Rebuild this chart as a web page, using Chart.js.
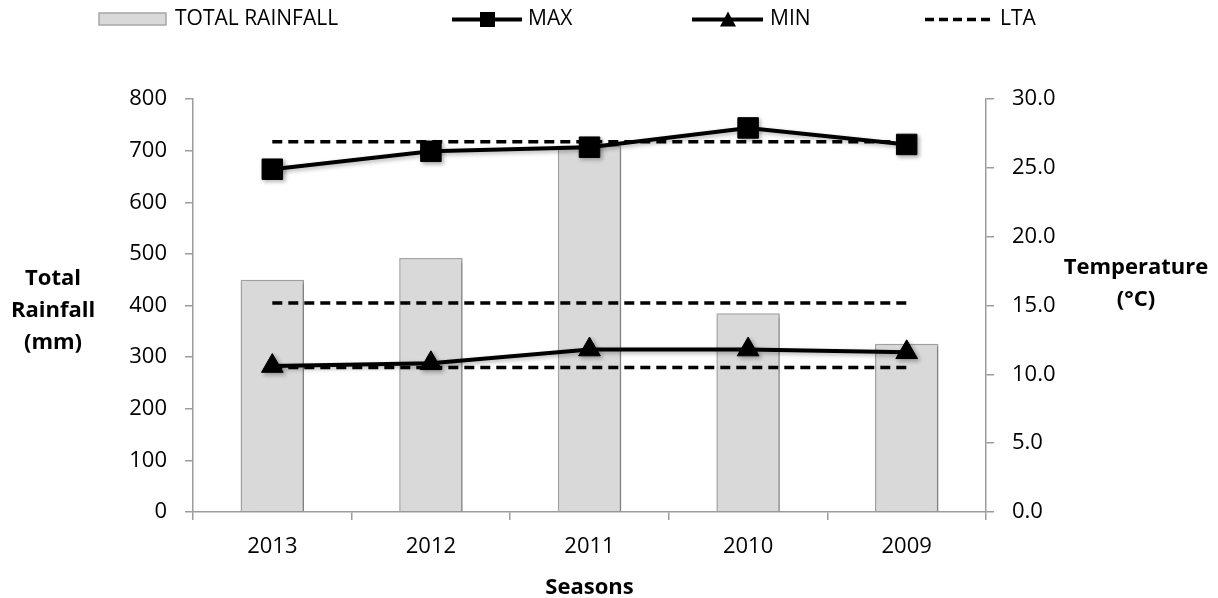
<!DOCTYPE html>
<html lang="en">
<head>
    <meta charset="UTF-8">
    <title>Rainfall and temperature by season</title>
    <script src="https://cdn.jsdelivr.net/npm/chart.js"></script>
    <style>
        body { margin: 0; background: #fff; }
    </style>
</head>
<body>
    <canvas id="rainChart" width="1218" height="598"></canvas>
    <script>
        // values
        const seasons = ['2013', '2012', '2011', '2010', '2009']
        const totalRainfall = [450, 492, 710, 385, 326]
        const maxTemp = [24.9, 26.2, 26.5, 27.9, 26.7]
        const minTemp = [10.6, 10.8, 11.8, 11.8, 11.6]
        const ltaMaxTemp = [26.9, 26.9, 26.9, 26.9, 26.9]
        const ltaRainfall = [405, 405, 405, 405, 405]
        const ltaMinTemp = [10.5, 10.5, 10.5, 10.5, 10.5]
        const rainTicks = { min: 0, max: 800, step: 100 }
        const tempTicks = { min: 0, max: 30, step: 5 }

        const FONT = "'Open Sans', sans-serif"
        const axisGrey = '#9c9c9c'

        // excel-ish legend and axis titles, drawn straight on the canvas
        const decor = {
            id: 'decor',
            beforeDatasetDraw(chart, args) {
                const ctx = chart.ctx
                ctx.save()
                if (args.meta.type === 'bar' || args.meta.controller.getDataset().shadow) {
                    ctx.shadowColor = 'rgba(0,0,0,0.3)'
                    ctx.shadowBlur = 4
                    ctx.shadowOffsetX = 2
                    ctx.shadowOffsetY = 2
                }
            },
            afterDatasetDraw(chart) {
                chart.ctx.restore()
            },
            afterDraw(chart) {
                const ctx = chart.ctx
                ctx.save()
                ctx.fillStyle = '#000'
                ctx.strokeStyle = '#000'

                // legend
                const ly = 19.5
                ctx.font = `21px ${FONT}`
                ctx.textBaseline = 'middle'
                ctx.textAlign = 'left'

                ctx.fillStyle = '#d9d9d9'
                ctx.fillRect(99, 13, 67, 12)
                ctx.strokeStyle = '#a6a6a6'
                ctx.lineWidth = 1.5
                ctx.strokeRect(99, 13, 67, 12)
                ctx.fillStyle = '#000'
                ctx.fillText('TOTAL RAINFALL', 175, ly)

                ctx.strokeStyle = '#000'
                ctx.lineWidth = 4
                ctx.beginPath()
                ctx.moveTo(452, ly); ctx.lineTo(522, ly)
                ctx.stroke()
                ctx.fillRect(480, ly - 7.5, 15, 15)
                ctx.fillText('MAX', 528, ly)

                ctx.beginPath()
                ctx.moveTo(692, ly); ctx.lineTo(763, ly)
                ctx.stroke()
                ctx.beginPath()
                ctx.moveTo(728, ly - 8); ctx.lineTo(736, ly + 7); ctx.lineTo(720, ly + 7)
                ctx.closePath()
                ctx.fill()
                ctx.fillText('MIN', 770, ly)

                ctx.lineWidth = 3.5
                ctx.setLineDash([9, 5])
                ctx.beginPath()
                ctx.moveTo(925, ly); ctx.lineTo(994, ly)
                ctx.stroke()
                ctx.setLineDash([])
                ctx.fillText('LTA', 1000, ly)

                // axis titles
                ctx.font = `bold 22px ${FONT}`
                ctx.textBaseline = 'alphabetic'
                ctx.textAlign = 'center'
                ctx.fillText('Total', 53, 285)
                ctx.fillText('Rainfall', 53, 317)
                ctx.fillText('(mm)', 53, 349)

                ctx.fillText('Temperature', 1136, 274)
                ctx.fillText('(°C)', 1136, 306)

                const area = chart.chartArea
                ctx.fillText('Seasons', (area.left + area.right) / 2, 594)
                ctx.restore()
            }
        }

        const tickFont = { family: FONT, size: 22 }

        const rainChart = new Chart(document.getElementById('rainChart'), {
            type: 'bar',
            data: {
                labels: seasons,
                datasets: [
                    {
                        label: 'MAX',
                        type: 'line',
                        data: maxTemp,
                        yAxisID: 'yT',
                        borderColor: '#000',
                        backgroundColor: '#000',
                        borderWidth: 4,
                        pointStyle: 'rect',
                        pointRadius: 14.5,
                        pointBorderWidth: 1,
                        tension: 0,
                        shadow: true,
                        order: 1
                    },
                    {
                        label: 'MIN',
                        type: 'line',
                        data: minTemp,
                        yAxisID: 'yT',
                        borderColor: '#000',
                        backgroundColor: '#000',
                        borderWidth: 4,
                        pointStyle: 'triangle',
                        pointRadius: 12.5,
                        pointBorderWidth: 1,
                        tension: 0,
                        shadow: true,
                        order: 1
                    },
                    {
                        label: 'LTA',
                        type: 'line',
                        data: ltaMaxTemp,
                        yAxisID: 'yT',
                        borderColor: '#000',
                        borderWidth: 3.5,
                        borderDash: [10, 6],
                        pointRadius: 0,
                        order: 2
                    },
                    {
                        label: 'LTA rainfall',
                        type: 'line',
                        data: ltaRainfall,
                        yAxisID: 'y',
                        borderColor: '#000',
                        borderWidth: 3.5,
                        borderDash: [10, 6],
                        pointRadius: 0,
                        order: 2
                    },
                    {
                        label: 'LTA min',
                        type: 'line',
                        data: ltaMinTemp,
                        yAxisID: 'yT',
                        borderColor: '#000',
                        borderWidth: 3.5,
                        borderDash: [10, 6],
                        pointRadius: 0,
                        order: 2
                    },
                    {
                        label: 'TOTAL RAINFALL',
                        data: totalRainfall,
                        yAxisID: 'y',
                        backgroundColor: '#d9d9d9',
                        borderColor: '#a6a6a6',
                        borderWidth: 1.5,
                        barPercentage: 0.4,
                        categoryPercentage: 1.0,
                        order: 3
                    }
                ]
            },
            options: {
                responsive: false,
                animation: false,
                layout: { padding: { top: 99, left: 0, right: 0, bottom: 0 } },
                plugins: {
                    legend: { display: false },
                    tooltip: { enabled: false }
                },
                scales: {
                    x: {
                        offset: true,
                        grid: { offset: true, drawOnChartArea: false, tickLength: 8, color: axisGrey, lineWidth: 1.5 },
                        border: { color: axisGrey, width: 1.5 },
                        ticks: { font: tickFont, color: '#000', padding: 14 },
                        afterFit(scale) { scale.height = 86 }
                    },
                    y: {
                        position: 'left',
                        min: rainTicks.min,
                        max: rainTicks.max,
                        grid: { drawOnChartArea: false, tickLength: 8, color: axisGrey, lineWidth: 1.5 },
                        border: { color: axisGrey, width: 1.5 },
                        ticks: { stepSize: rainTicks.step, font: tickFont, color: '#000', padding: 18 },
                        afterFit(scale) { scale.width = 193 }
                    },
                    yT: {
                        position: 'right',
                        min: tempTicks.min,
                        max: tempTicks.max,
                        grid: { drawOnChartArea: false, tickLength: 8, color: axisGrey, lineWidth: 1.5 },
                        border: { color: axisGrey, width: 1.5 },
                        ticks: {
                            stepSize: tempTicks.step,
                            font: tickFont,
                            color: '#000',
                            padding: 18,
                            callback: v => Number(v).toFixed(1)
                        },
                        afterFit(scale) { scale.width = 232 }
                    }
                }
            },
            plugins: [decor]
        })
    </script>
</body>
</html>
